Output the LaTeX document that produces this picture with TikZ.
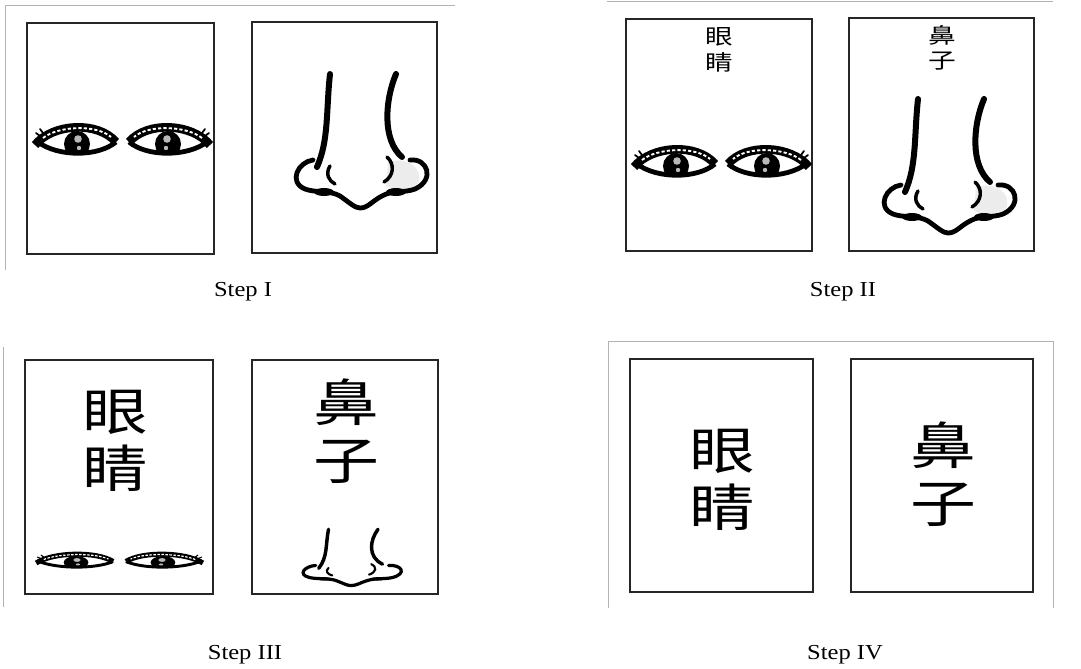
\documentclass[tikz,border=0pt]{standalone}
\usepackage{fontspec}
\usepackage{graphicx}
\usepackage{tikz}
\setmainfont{Liberation Serif}
\newfontfamily\cjk{Noto Sans CJK SC}

% the print is a little wide, so stretch glyphs sideways
\newcommand{\wideword}[1]{\scalebox{1.15}[1]{#1}}
\newcommand{\widezi}[1]{\scalebox{1.3}[1]{#1}}

\tikzset{
  card/.style={draw=black!85, line width=0.9pt},
  outerframe/.style={draw=gray!60, line width=0.7pt},
  steplabel/.style={anchor=base, inner sep=0pt, font=\fontsize{16}{18}\selectfont},
  bigzi/.style={align=center, inner sep=0pt, font=\cjk\fontsize{38}{43}\selectfont},
  smallzi/.style={align=center, inner sep=0pt, font=\cjk\fontsize{16}{19}\selectfont},
  % pics do not pick up the flipped y axis of the picture
  every pic/.style={yscale=-1},
  lid/.style={line width=6.5pt},
  lidlow/.style={line width=3.6pt},
  lash/.style={white, line width=1.4pt, dash pattern=on 2.4pt off 1.6pt},
  lashtip/.style={line width=1.3pt, line cap=round},
  irisdot/.style={fill=gray!55},
  bridge/.style={line width=4.5pt, line cap=round},
  wing/.style={line width=3.6pt, line cap=round},
  nostril/.style={line width=2.6pt, line cap=round},
  noseshade/.style={fill=gray!15},
  % one eye, outer corner on the left
  eye/.pic={
    \begin{scope}
      \clip (-39,0) .. controls (-25,-18) and (20,-20) .. (38,1)
            .. controls (20,16) and (-20,16) .. (-39,0) -- cycle;
      \fill (-1,3) circle (13);
      \fill[irisdot] (0,-2) circle (3.8);
      \fill[irisdot] (1,7) circle (2.2);
    \end{scope}
    \draw[lid] (-43,4) .. controls (-25,-18) and (20,-20) .. (38,1);
    \draw[lash] (-35,-3) .. controls (-20,-15) and (18,-17) .. (33,-4);
    \draw[lidlow] (-40,1) .. controls (-20,16) and (20,16) .. (38,1);
    \draw[lashtip] (-38,-5) -- (-42,-8) (-35,-8) -- (-38,-12);
  },
  % nose seen from the front
  nose/.pic={
    \fill[noseshade] (28,22) .. controls (50,16) and (64,30) .. (58,44)
          .. controls (50,50) and (35,50) .. (26,46) -- cycle;
    \draw[bridge] (-30,-66) .. controls (-34,-30) and (-31,0) .. (-43,27);
    \draw[bridge] (36,-66) .. controls (25,-40) and (22,0) .. (42,17);
    \draw[wing] (-47,20) .. controls (-62,22) and (-72,42) .. (-55,49)
          .. controls (-45,53) and (-30,50) .. (-20,56)
          .. controls (-10,63) and (-5,68) .. (0,68)
          .. controls (8,68) and (12,61) .. (22,56)
          .. controls (32,50) and (45,53) .. (55,49)
          .. controls (75,40) and (68,18) .. (50,20);
    \fill (-36,52) ellipse (10 and 4);
    \fill (36,52) ellipse (10 and 4);
    \draw[nostril] (-30,26) .. controls (-35,34) and (-31,41) .. (-25,44);
    \draw[nostril] (27,17) .. controls (35,24) and (34,36) .. (24,42);
  },
}

\begin{document}
\begin{tikzpicture}[x=0.75pt,y=0.75pt,yscale=-1,xscale=1]
    \useasboundingbox (0,0) rectangle (1081,668);

    % frames round the steps
    \draw[outerframe] (5,270) -- (5,5) -- (455,5);
    \draw[outerframe] (607,1) -- (1053,1);
    \draw[outerframe] (3,347) -- (3,607);
    \draw[outerframe] (608,608) -- (608,341) -- (1053,341) -- (1053,608);

    % step I
    \draw[card] (27,23) rectangle (214,254);
    \draw[card] (252,22) rectangle (437,253);
    \pic at (78,141) {eye};
    \pic[xscale=-1] at (167,141) {eye};
    \pic at (360,140) {nose};
    \node[steplabel] (stepI) at (243,296) {\wideword{Step I}};

    % step II
    \draw[card] (626,19) rectangle (812,251);
    \draw[card] (849,18) rectangle (1034,251);
    \node[smallzi] (eyesII) at (719,50) {\widezi{眼}\\\widezi{睛}};
    \node[smallzi] (noseII) at (942,48) {\widezi{鼻}\\\widezi{子}};
    \pic at (677,163) {eye};
    \pic[xscale=-1] at (766,163) {eye};
    \pic at (948,165) {nose};
    \node[steplabel] (stepII) at (843,296) {\wideword{Step II}};

    % step III
    \draw[card] (25,360) rectangle (213,594);
    \draw[card] (252,360) rectangle (438,594);
    \node[bigzi] (eyesIII) at (115,441) {\widezi{眼}\\\widezi{睛}};
    \node[bigzi] (noseIII) at (346,431) {\widezi{鼻}\\\widezi{子}};
    \pic[xscale=0.95, yscale=0.5, lid/.style={line width=3.8pt}, lidlow/.style={line width=2.2pt},
         lash/.style={white, line width=0.9pt, dash pattern=on 1.8pt off 1.2pt},
         lashtip/.style={line width=0.8pt}] at (77,561) {eye};
    \pic[xscale=-0.95, yscale=0.5, lid/.style={line width=3.8pt}, lidlow/.style={line width=2.2pt},
         lash/.style={white, line width=0.9pt, dash pattern=on 1.8pt off 1.2pt},
         lashtip/.style={line width=0.8pt}] at (162,561) {eye};
    \pic[xscale=0.75, yscale=0.42, bridge/.style={line width=2.6pt, line cap=round},
         wing/.style={line width=2.4pt, line cap=round}, nostril/.style={line width=1.6pt, line cap=round},
         noseshade/.style={fill=white}] at (351,557) {nose};
    \node[steplabel] (stepIII) at (245,659) {\wideword{Step III}};

    % step IV
    \draw[card] (630,359) rectangle (813,592);
    \draw[card] (851,359) rectangle (1033,592);
    \node[bigzi] (eyesIV) at (722,480) {\widezi{眼}\\\widezi{睛}};
    \node[bigzi] (noseIV) at (943,474) {\widezi{鼻}\\\widezi{子}};
    \node[steplabel] (stepIV) at (845,659) {\wideword{Step IV}};
\end{tikzpicture}
\end{document}
